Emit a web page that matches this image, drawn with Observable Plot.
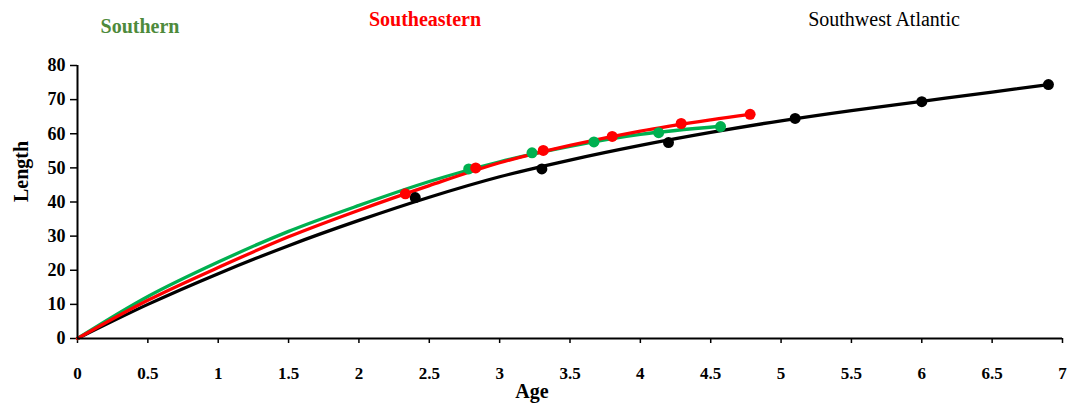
<!DOCTYPE html>
<html>
<head>
<meta charset="utf-8">
<script src="https://cdn.jsdelivr.net/npm/d3@7"></script>
<script src="https://cdn.jsdelivr.net/npm/@observablehq/plot@0.6"></script>
<style>
  html, body { margin: 0; padding: 0; background: #fff; }
  #wrap { position: relative; width: 1069px; height: 412px; font-family: "Liberation Serif", "DejaVu Serif", serif; }
  #legend { position: relative; width: 1069px; height: 40px; }
  #legend span { position: absolute; white-space: nowrap; transform: translate(-50%, -50%); }
</style>
</head>
<body>
<div id="wrap">
  <div id="legend"></div>
  <div id="chart"></div>
</div>
<script>
// ---- Series names and colours ----
const seriesNames = ["Southern", "Southeastern", "Southwest Atlantic"];
const seriesColors = ["#00B050", "#FF0000", "#000000"];
const labelColors = ["#4E8A3C", "#FF0000", "#000000"];

// ---- Observed points (age, length) ----
const southernAge = [2.78, 3.23, 3.67, 4.13, 4.57];
const southernLen = [49.7, 54.4, 57.6, 60.3, 62.1];
const southeasternAge = [2.33, 2.83, 3.31, 3.80, 4.29, 4.78];
const southeasternLen = [42.4, 50.0, 55.1, 59.2, 63.0, 65.7];
const swAtlanticAge = [2.4, 3.3, 4.2, 5.1, 6.0, 6.9];
const swAtlanticLen = [41.3, 49.7, 57.4, 64.5, 69.4, 74.4];

// ---- Growth curves (age, length) ----
const southernCurveAge = [0, 0.5, 1, 1.5, 2, 2.5, 3, 3.5, 4, 4.57];
const southernCurveLen = [0, 12.3, 22.4, 31.4, 39.0, 46.0, 51.8, 56.3, 59.8, 62.2];
const southeasternCurveAge = [0, 0.5, 1, 1.5, 2, 2.5, 3, 3.5, 4, 4.5, 4.78];
const southeasternCurveLen = [0, 11.2, 20.8, 29.8, 37.6, 44.8, 51.5, 56.6, 60.8, 64.1, 65.7];
const swAtlanticCurveAge = [0, 0.5, 1, 1.5, 2, 2.5, 3, 3.5, 4, 4.5, 5, 5.5, 6, 6.5, 6.9];
const swAtlanticCurveLen = [0, 10.0, 19.0, 27.2, 34.6, 41.4, 47.4, 52.3, 56.6, 60.4, 63.8, 66.8, 69.5, 72.2, 74.4];

// ---- Axis ticks ----
const xTicks = [0, 0.5, 1, 1.5, 2, 2.5, 3, 3.5, 4, 4.5, 5, 5.5, 6, 6.5, 7];
const yTicks = [0, 10, 20, 30, 40, 50, 60, 70, 80];
const xLabel = "Age";
const yLabel = "Length";

const zip = (a, b, s) => a.map((v, i) => ({age: v, len: b[i], s}));
const points = [
  ...zip(swAtlanticAge, swAtlanticLen, seriesNames[2]),
  ...zip(southernAge, southernLen, seriesNames[0]),
  ...zip(southeasternAge, southeasternLen, seriesNames[1])
];
const curves = [
  zip(swAtlanticCurveAge, swAtlanticCurveLen, seriesNames[2]),
  zip(southernCurveAge, southernCurveLen, seriesNames[0]),
  zip(southeasternCurveAge, southeasternCurveLen, seriesNames[1])
];
const colorOf = s => seriesColors[seriesNames.indexOf(s)];

// ---- Legend labels above the chart ----
const legend = document.getElementById("legend");
const legendPos = [[140, 26, "bold"], [425, 19, "bold"], [884, 19, "normal"]];
seriesNames.forEach((n, i) => {
  const sp = document.createElement("span");
  sp.textContent = n;
  sp.style.left = legendPos[i][0] + "px";
  sp.style.top = legendPos[i][1] + "px";
  sp.style.fontWeight = legendPos[i][2];
  sp.style.fontSize = "20px";
  sp.style.color = labelColors[i];
  legend.appendChild(sp);
});

const marks = [];
curves.forEach(c => {
  marks.push(Plot.line(c, {x: "age", y: "len", stroke: colorOf(c[0].s), strokeWidth: 3.3, curve: "catmull-rom"}));
});
[seriesNames[2], seriesNames[0], seriesNames[1]].forEach(n => {
  marks.push(Plot.dot(points.filter(d => d.s === n), {x: "age", y: "len", r: 5.5, fill: colorOf(n), stroke: "none"}));
});

const chart = Plot.plot({
  width: 1069,
  height: 372,
  marginTop: 25,
  marginBottom: 74,
  marginLeft: 77,
  marginRight: 7,
  style: {fontFamily: "Liberation Serif, serif", fontSize: "17px", fontWeight: "bold", color: "#000", background: "#fff"},
  x: {domain: [0, 7]},
  y: {domain: [0, 80]},
  marks: [
    Plot.axisX({ticks: xTicks, tickSize: 5, tickPadding: 23, strokeWidth: 1.5, label: null, fontSize: 17, tickFormat: d => String(d)}),
    Plot.axisY({ticks: yTicks, tickSize: 7, tickPadding: 5, strokeWidth: 1.5, label: null, fontSize: 18}),
    ...marks,
    Plot.ruleY([0], {stroke: "#000", strokeWidth: 2}),
    Plot.ruleX([0], {stroke: "#000", strokeWidth: 2}),
    Plot.text([xLabel], {frameAnchor: "bottom", dx: -38, dy: 59, fontSize: 20, fontWeight: "bold", text: d => d}),
    Plot.text([yLabel], {frameAnchor: "left", dx: -56, rotate: -90, fontSize: 20, fontWeight: "bold", text: d => d})
  ]
});
document.getElementById("chart").appendChild(chart);
</script>
</body>
</html>
